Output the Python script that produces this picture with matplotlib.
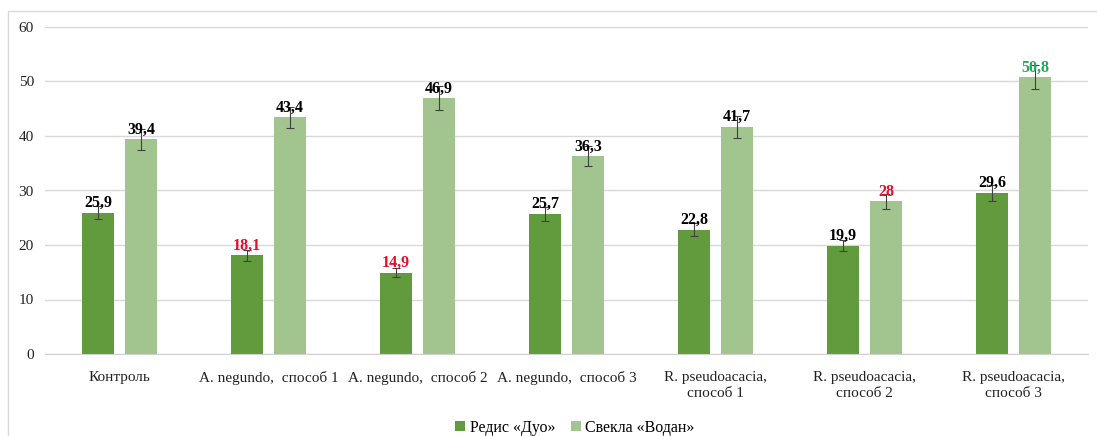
import numpy as np
import matplotlib.pyplot as plt
from matplotlib.patches import Rectangle

plt.rcParams['font.family'] = ['Liberation Serif', 'DejaVu Serif']

# Data
categories = ['Контроль', 'A. negundo,  способ 1', 'A. negundo,  способ 2',
              'A. negundo,  способ 3', 'R. pseudoacacia,\nспособ 1',
              'R. pseudoacacia,\nспособ 2', 'R. pseudoacacia,\nспособ 3']
redis = [25.9, 18.1, 14.9, 25.7, 22.8, 19.9, 29.6]
redis_err = [1.2, 1.0, 0.8, 1.3, 1.2, 1.0, 1.5]
svekla = [39.4, 43.4, 46.9, 36.3, 41.7, 28, 50.8]
svekla_err = [1.9, 2.0, 2.2, 1.8, 2.0, 1.4, 2.2]
redis_lbl_colors = ['black', '#e0102a', '#e0102a', 'black', 'black', 'black', 'black']
svekla_lbl_colors = ['black', 'black', 'black', 'black', 'black', '#e0102a', '#1faa5a']

dark = '#629a3e'
light = '#a2c48e'

fig = plt.figure(figsize=(10.97, 4.36), dpi=100)
ax = fig.add_axes([45/1097, 82/436, 1043/1097, 327/436])

x = np.arange(len(categories))
w = 0.22
off = 0.145
ax.bar(x - off, redis, w, color=dark, yerr=redis_err,
       error_kw=dict(ecolor='#404040', elinewidth=0.8, capsize=3, capthick=0.8),
       label='Редис «Дуо»', zorder=2)
ax.bar(x + off, svekla, w, color=light, yerr=svekla_err,
       error_kw=dict(ecolor='#404040', elinewidth=0.8, capsize=3, capthick=0.8),
       label='Свекла «Водан»', zorder=2)

def fmt(v):
    s = ('%g' % v).replace('.', ',')
    return s

for i in range(len(categories)):
    ax.text(x[i] - off, redis[i] + 0.3, fmt(redis[i]), ha='center', va='bottom',
            fontsize=11.5, fontweight='bold', color=redis_lbl_colors[i], zorder=3)
    ax.text(x[i] + off, svekla[i] + 0.3, fmt(svekla[i]), ha='center', va='bottom',
            fontsize=11.5, fontweight='bold', color=svekla_lbl_colors[i], zorder=3)

ax.set_xlim(-0.5, len(categories) - 0.5)
ax.set_ylim(0, 60)
ax.set_yticks(range(0, 61, 10))
ax.yaxis.grid(True, color='#d9d9d9', linewidth=1, zorder=0)
ax.set_axisbelow(True)
for s in ['top', 'right', 'left']:
    ax.spines[s].set_visible(False)
ax.spines['bottom'].set_color('#d0d0d0')
ax.tick_params(axis='both', length=0, labelsize=11, colors='#222222')
ax.tick_params(axis='x', pad=12)
ax.tick_params(axis='y', pad=8)
ax.set_xticks(x)
ax.set_xticklabels(categories, linespacing=1.3)

fig.legend(loc='center', bbox_to_anchor=(575/1097, 1 - 428/436), ncol=2,
           frameon=False, fontsize=11.5, handlelength=0.6, handleheight=0.6,
           handletextpad=0.3, columnspacing=1.0)

# outer frame
fig.patches.append(Rectangle((8/1097, -0.01), 1.1, 1 - 11/436 + 0.01,
                             transform=fig.transFigure, fill=False,
                             edgecolor='#d9d9d9', linewidth=1))

fig.savefig('out.png', dpi=100)
